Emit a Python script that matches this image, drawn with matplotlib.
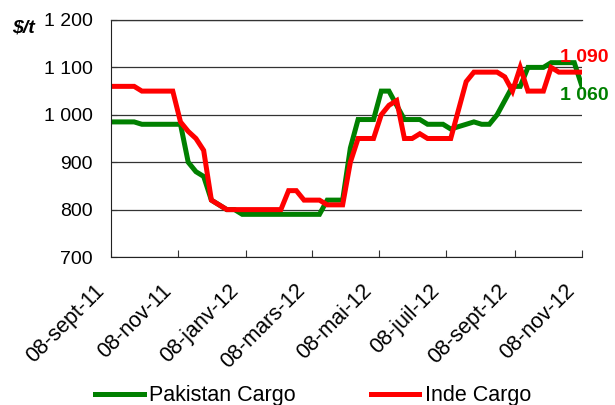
import matplotlib
matplotlib.use("Agg")
import matplotlib.pyplot as plt
import matplotlib.transforms as mtrans
from matplotlib.ticker import FuncFormatter, MultipleLocator
import pandas as pd

plt.rcParams["font.family"] = ["Liberation Sans", "DejaVu Sans"]

# weekly quotes, 08 Sept 2011 -> 08 Nov 2012 ($/t)
dates = pd.date_range("2011-09-08", "2012-11-08", freq="7D")

pakistan = [985, 985, 985, 985, 980, 980, 980, 980, 980, 980,
            900, 880, 870, 820, 810, 800, 800, 790, 790, 790,
            790, 790, 790, 790, 790, 790, 790, 790, 820, 820,
            820, 930, 990, 990, 990, 1050, 1050, 1020, 990, 990,
            990, 980, 980, 980, 970, 975, 980, 985, 980, 980,
            1000, 1030, 1060, 1060, 1100, 1100, 1100, 1110, 1110, 1110,
            1110, 1060]

inde = [1060, 1060, 1060, 1060, 1050, 1050, 1050, 1050, 1050, 985,
        965, 950, 925, 820, 810, 800, 800, 800, 800, 800,
        800, 800, 800, 840, 840, 820, 820, 820, 810, 810,
        810, 900, 950, 950, 950, 1000, 1020, 1030, 950, 950,
        960, 950, 950, 950, 950, 1010, 1070, 1090, 1090, 1090,
        1090, 1080, 1050, 1100, 1050, 1050, 1050, 1100, 1090, 1090,
        1090, 1090]

tick_dates = pd.to_datetime(["2011-09-08", "2011-11-08", "2012-01-08", "2012-03-08",
                             "2012-05-08", "2012-07-08", "2012-09-08", "2012-11-08"])
tick_labels = ["08-sept-11", "08-nov-11", "08-janv-12", "08-mars-12",
               "08-mai-12", "08-juil-12", "08-sept-12", "08-nov-12"]

green = "#008000"
red = "#ff0000"
fs = 14
fs_big = 15.5

fig = plt.figure(figsize=(6.15, 4.05), dpi=100)
ax = fig.add_axes([111 / 615, 1 - 257 / 405, (582 - 111) / 615, (257 - 20) / 405])

ax.plot(dates, pakistan, color=green, lw=3.6, label="Pakistan Cargo", solid_joinstyle="miter")
ax.plot(dates, inde, color=red, lw=3.6, label="Inde Cargo", solid_joinstyle="miter")

ax.set_ylim(700, 1200)
ax.set_xlim(tick_dates[0], tick_dates[-1])
ax.yaxis.set_major_locator(MultipleLocator(100))
ax.yaxis.set_major_formatter(FuncFormatter(lambda v, p: f"{v:,.0f}".replace(",", " ")))
ax.grid(axis="y", color="#333333", lw=0.9)
ax.set_axisbelow(True)

ax.tick_params(axis="x", direction="in", length=5, pad=22, labelsize=fs_big, color="#333333")
ax.tick_params(axis="y", direction="in", length=4, pad=13, labelsize=fs, color="#333333")

ax.set_xticks(tick_dates)
ax.set_xticklabels(tick_labels, rotation=45, ha="right", va="center",
                   rotation_mode="anchor")
# shift the slanted labels a little to the left of their ticks
offset = mtrans.ScaledTranslation(-10 / 100, 0, fig.dpi_scale_trans)
for lab in ax.get_xticklabels():
    lab.set_transform(lab.get_transform() + offset)

ax.spines["right"].set_visible(False)
ax.spines["top"].set_color("#333333")
ax.spines["top"].set_linewidth(0.9)
ax.spines["left"].set_color("#222222")
ax.spines["bottom"].set_color("#222222")

ax.annotate("1 090", xy=(dates[-1], inde[-1]), xytext=(-22, 15),
            textcoords="offset pixels", color=red, fontsize=fs, fontweight="bold",
            ha="left", va="center", annotation_clip=False)
ax.annotate("1 060", xy=(dates[-1], pakistan[-1]), xytext=(-22, -9),
            textcoords="offset pixels", color=green, fontsize=fs, fontweight="bold",
            ha="left", va="center", annotation_clip=False)

fig.text(12 / 615, 1 - 28 / 405, r"\$/t", fontsize=fs, fontweight="bold",
         fontstyle="italic", ha="left", va="center")

fig.legend(loc="center", bbox_to_anchor=(313 / 615, 1 - 396 / 405), ncol=2,
           frameon=False, fontsize=fs_big, handlelength=2.25, handletextpad=0.25,
           columnspacing=3.5, borderpad=0, borderaxespad=0)

fig.savefig("out.png", dpi=100)
